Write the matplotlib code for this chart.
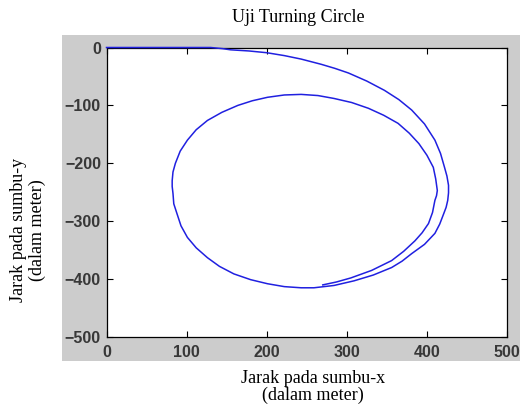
import matplotlib
matplotlib.use('Agg')
import matplotlib.pyplot as plt
from matplotlib.patches import Rectangle

# lintasan kapal, x dan y dalam meter
x_path = [0, 130, 145, 155, 178, 200, 222, 243, 268, 285, 302, 325, 347, 365, 381,
          397, 410, 417, 422, 425, 427, 427, 426, 424, 421, 416, 410, 397, 381, 369,
          356, 333, 309, 284, 259,
          243, 222, 201, 180, 159, 141, 126, 112, 101, 93, 88, 84, 83, 82, 82, 83,
          86, 92, 101, 112, 126, 144, 164, 182, 201, 222, 243, 264, 284, 306, 327,
          346, 364, 378, 390, 400, 408, 411, 413, 412, 410, 407, 402, 394, 385, 371,
          356, 331, 305, 287, 270]
y_path = [0, 0, -2, -4, -6, -9, -14, -20, -29, -36, -44, -58, -74, -90, -108,
          -132, -160, -183, -207, -222, -238, -251, -264, -276, -287, -305, -321,
          -340, -356, -369, -380, -393, -403, -411, -415,
          -415, -413, -408, -401, -391, -378, -363, -346, -328, -308, -287, -270,
          -252, -240, -230, -215, -200, -179, -160, -142, -126, -112, -100, -92,
          -86, -82, -81, -83, -88, -95, -105, -117, -131, -148, -166, -186, -207,
          -227, -247, -256, -264, -285, -304, -320, -334, -352, -368, -385, -398,
          -405, -410]

xticks = [0, 100, 200, 300, 400, 500]
yticks = [0, -100, -200, -300, -400, -500]

W, H = 524, 407
fig = plt.figure(figsize=(W / 100, H / 100), dpi=100)

# bidang abu-abu ala MATLAB
fig.patches.append(Rectangle((62 / W, 1 - 361 / H), (520 - 62) / W, (361 - 35) / H,
                             transform=fig.transFigure, facecolor='#cccccc',
                             edgecolor='none', zorder=-10))

ax = fig.add_axes([106.5 / W, 1 - 337 / H, (507 - 106.5) / W, (337 - 47.5) / H])
ax.set_facecolor('white')
ax.plot(x_path, y_path, color='#2020e0', lw=1.1, clip_on=False, zorder=5)

ax.set_xlim(0, 500)
ax.set_ylim(-500, 0)
ax.set_xticks(xticks)
ax.set_yticks(yticks)
ax.tick_params(direction='in', top=True, right=True, length=4, width=0.8,
               labelsize=11.5, labelcolor='#383838', pad=4)
ax.tick_params(axis='x', pad=6)
for lab in ax.get_xticklabels() + ax.get_yticklabels():
    lab.set_family('Liberation Sans')
    lab.set_fontweight('bold')
for s in ax.spines.values():
    s.set_linewidth(0.9)

fig.text(298 / W, 1 - 17 / H, 'Uji Turning Circle', ha='center', va='center',
         family='Liberation Serif', fontsize=13)
fig.text(313 / W, 1 - 387 / H, 'Jarak pada sumbu-x\n(dalam meter)', ha='center',
         va='center', family='Liberation Serif', fontsize=13, linespacing=1.05)
fig.text(28 / W, 1 - 230 / H, 'Jarak pada sumbu-y\n(dalam meter)', ha='center',
         va='center', rotation=90, family='Liberation Serif', fontsize=13,
         linespacing=1.2)

fig.savefig('out.png', dpi=100)
